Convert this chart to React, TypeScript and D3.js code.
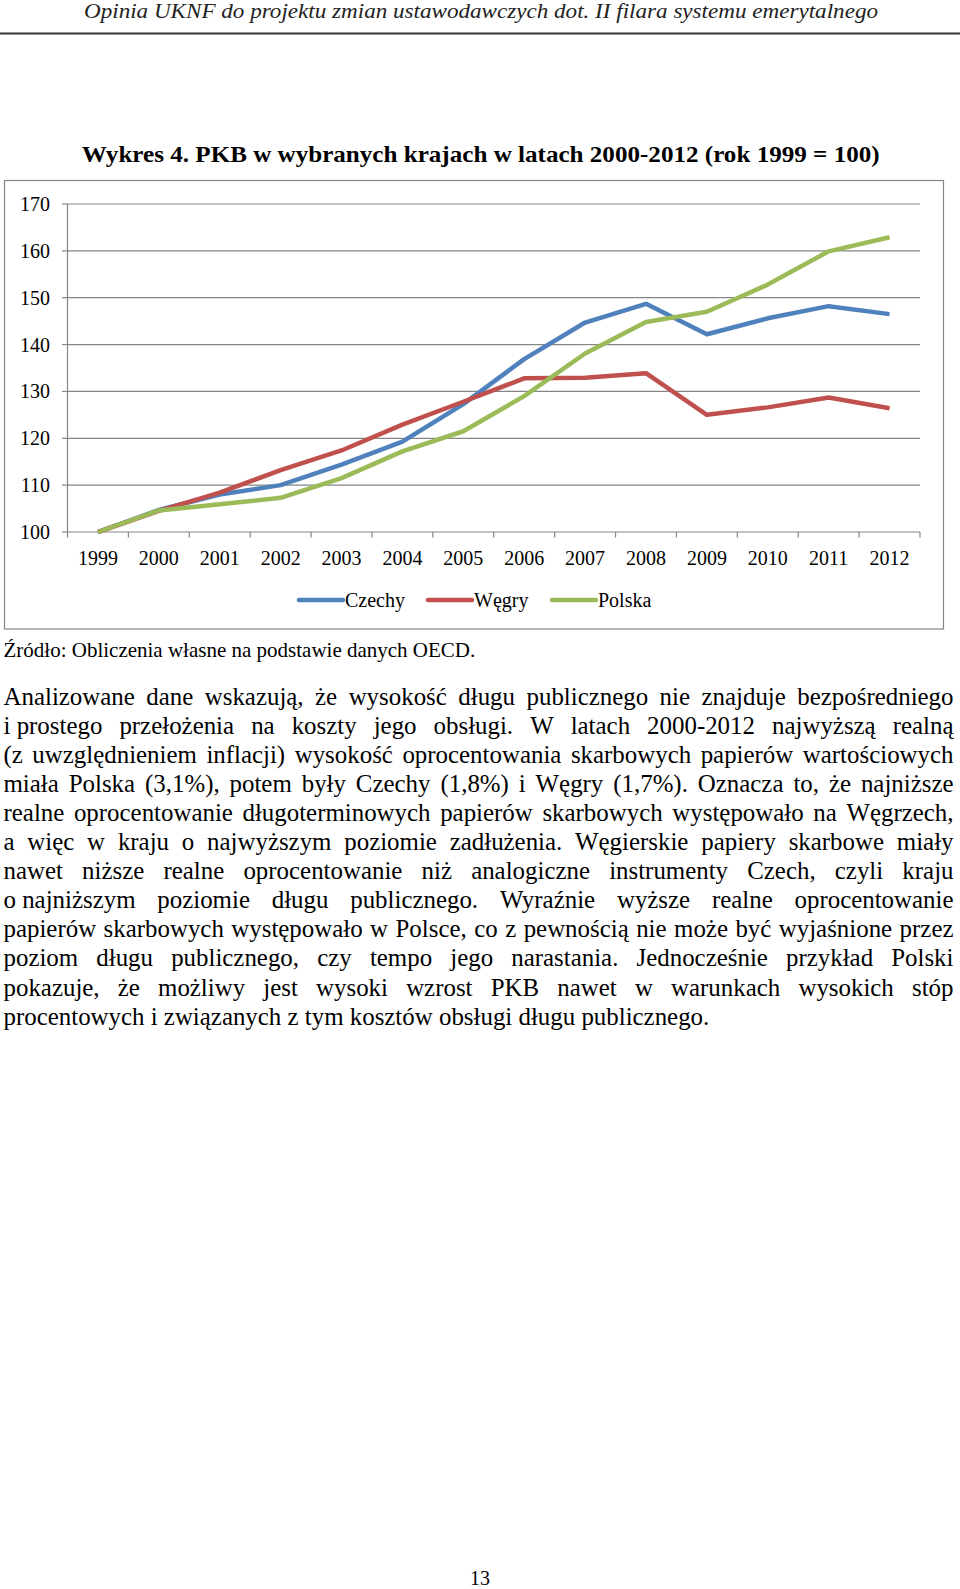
import React, { useMemo } from "react";
import * as d3 from "d3";

const years = ["1999", "2000", "2001", "2002", "2003", "2004", "2005", "2006", "2007", "2008", "2009", "2010", "2011", "2012"];
const czechy = [100, 104.7, 108.0, 110.0, 114.4, 119.3, 127.3, 136.9, 144.7, 148.7, 142.2, 145.6, 148.2, 146.5];
const wegry = [100, 104.5, 108.4, 113.2, 117.4, 122.9, 127.8, 132.8, 132.9, 133.9, 125.0, 126.6, 128.7, 126.4];
const polska = [100, 104.6, 105.9, 107.3, 111.5, 117.2, 121.5, 129.0, 138.1, 144.8, 147.0, 152.8, 159.9, 162.9];
const yTicks = [100, 110, 120, 130, 140, 150, 160, 170];
const seriesNames = ["Czechy", "Węgry", "Polska"];
const seriesColors = ["#4F81BD", "#C0504D", "#9BBB59"];

const headerText = "Opinia UKNF do projektu zmian ustawodawczych dot. II filara systemu emerytalnego";
const titleText = "Wykres 4. PKB w wybranych krajach w latach 2000-2012 (rok 1999 = 100)";
const sourceText = "Źródło: Obliczenia własne na podstawie danych OECD.";
const NB = "\u00a0";
const bodyLines = [
  "Analizowane dane wskazują, że wysokość długu publicznego nie znajduje bezpośredniego",
  `i${NB}prostego przełożenia na koszty jego obsługi. W latach 2000-2012 najwyższą realną`,
  "(z uwzględnieniem inflacji) wysokość oprocentowania skarbowych papierów wartościowych",
  "miała Polska (3,1%), potem były Czechy (1,8%) i Węgry (1,7%). Oznacza to, że najniższe",
  "realne oprocentowanie długoterminowych papierów skarbowych występowało na Węgrzech,",
  "a więc w kraju o najwyższym poziomie zadłużenia. Węgierskie papiery skarbowe miały",
  "nawet niższe realne oprocentowanie niż analogiczne instrumenty Czech, czyli kraju",
  `o${NB}najniższym poziomie długu publicznego. Wyraźnie wyższe realne oprocentowanie`,
  "papierów skarbowych występowało w Polsce, co z pewnością nie może być wyjaśnione przez",
  "poziom długu publicznego, czy tempo jego narastania. Jednocześnie przykład Polski",
  "pokazuje, że możliwy jest wysoki wzrost PKB nawet w warunkach wysokich stóp",
  "procentowych i związanych z tym kosztów obsługi długu publicznego.",
];
const pageNumber = "13";

const FONT = "'Liberation Serif', 'Times New Roman', serif";

export default function App() {
  const W = 960;
  const H = 1589;
  const plot = { left: 67.5, right: 920, top: 204, bottom: 532 };

  const x = d3.scaleBand<string>().domain(years).range([plot.left, plot.right]).padding(0);
  const y = d3.scaleLinear().domain([100, 170]).range([plot.bottom, plot.top]);
  const cx = (yr: string) => (x(yr) as number) + x.bandwidth() / 2;

  const allSeries = [czechy, wegry, polska];
  const line = d3
    .line<number>()
    .x((_, i) => cx(years[i]))
    .y((v) => y(v));

  const bodySize = 24.9;
  const bodyLeft = 3.5;
  const bodyRight = 953.5;
  const bodyTop = 705;
  const bodyStep = 29.05;

  const laidOut = useMemo(() => {
    const canvas = document.createElement("canvas");
    const ctx = canvas.getContext("2d")!;
    ctx.font = `${bodySize}px "Liberation Serif"`;
    return bodyLines.map((ln, li) => {
      const words = ln.split(" ");
      const widths = words.map((w) => ctx.measureText(w).width);
      const total = widths.reduce((a, b) => a + b, 0);
      const last = li === bodyLines.length - 1;
      const space = ctx.measureText(" ").width;
      let gap = last ? space : (bodyRight - bodyLeft - total) / (words.length - 1);
      let scale = 1;
      if (!last && gap < space * 0.6) {
        gap = space * 0.6;
        scale = (bodyRight - bodyLeft - gap * (words.length - 1)) / total;
      }
      let xx = bodyLeft;
      return words.map((w, i) => {
        const pos = xx;
        xx += widths[i] * scale + gap;
        return { w, x: pos, len: widths[i] * scale, scaled: scale !== 1 };
      });
    });
  }, []);

  const legendY = 600;
  const legendItems = [
    { lx: 299, tx: 345 },
    { lx: 428, tx: 474 },
    { lx: 552, tx: 598 },
  ];

  const gridColor = "#868686";

  return (
    <div style={{ position: "absolute", left: 0, top: 0 }}>
      <svg width={W} height={H} style={{ display: "block", background: "#fff", fontFamily: FONT }}>
        <rect x={0} y={0} width={W} height={H} fill="#fff" />
        {/* header */}
        <text x={84} y={18} fontSize={20} fontStyle="italic" fill="#222" textLength={794} lengthAdjust="spacingAndGlyphs">
          {headerText}
        </text>
        <rect x={0} y={32.5} width={W} height={2} fill="#333" />

        {/* title */}
        <text x={81.7} y={161.7} fontSize={22.8} fontWeight="bold" fill="#000" textLength={798} lengthAdjust="spacingAndGlyphs">
          {titleText}
        </text>

        {/* chart frame */}
        <rect x={4.5} y={180.5} width={939} height={448.5} fill="#fff" stroke={gridColor} strokeWidth={1.2} />

        {/* gridlines and y axis */}
        {yTicks.map((t) => (
          <g key={t}>
            <line x1={plot.left} x2={plot.right} y1={y(t)} y2={y(t)} stroke={gridColor} strokeWidth={1.2} />
            <line x1={plot.left - 5.5} x2={plot.left} y1={y(t)} y2={y(t)} stroke={gridColor} strokeWidth={1.2} />
            <text x={50} y={y(t)} dy="0.35em" textAnchor="end" fontSize={20} fill="#000">
              {t}
            </text>
          </g>
        ))}
        <line x1={plot.left} x2={plot.left} y1={plot.top} y2={plot.bottom} stroke={gridColor} strokeWidth={1.2} />
        {years.map((yr) => (
          <line
            key={"t" + yr}
            x1={x(yr) as number}
            x2={x(yr) as number}
            y1={plot.bottom}
            y2={plot.bottom + 5.5}
            stroke={gridColor}
            strokeWidth={1.2}
          />
        ))}
        <line x1={plot.right} x2={plot.right} y1={plot.bottom} y2={plot.bottom + 5.5} stroke={gridColor} strokeWidth={1.2} />
        {years.map((yr) => (
          <text key={"l" + yr} x={cx(yr)} y={565} textAnchor="middle" fontSize={20} fill="#000">
            {yr}
          </text>
        ))}

        {/* series */}
        {allSeries.map((s, i) => (
          <path
            key={seriesNames[i]}
            d={line(s) as string}
            fill="none"
            stroke={seriesColors[i]}
            strokeWidth={4.5}
            strokeLinejoin="round"
            strokeLinecap="butt"
          />
        ))}

        {/* legend */}
        {legendItems.map((it, i) => (
          <g key={"lg" + i}>
            <line x1={it.lx} x2={it.lx + 44} y1={legendY} y2={legendY} stroke={seriesColors[i]} strokeWidth={4.5} strokeLinecap="round" />
            <text x={it.tx} y={legendY + 6.5} fontSize={20} fill="#000">
              {seriesNames[i]}
            </text>
          </g>
        ))}

        {/* source */}
        <text x={3.5} y={657} fontSize={21} fill="#000">
          {sourceText}
        </text>

        {/* body */}
        {laidOut.map((words, li) =>
          words.map((wd, wi) => (
            <text
              key={li + "-" + wi}
              x={wd.x}
              y={bodyTop + li * bodyStep}
              fontSize={bodySize}
              fill="#000"
              {...(wd.scaled ? { textLength: wd.len, lengthAdjust: "spacingAndGlyphs" } : {})}
            >
              {wd.w}
            </text>
          ))
        )}

        {/* page number */}
        <text x={480} y={1585} textAnchor="middle" fontSize={20} fill="#000">
          {pageNumber}
        </text>
      </svg>
    </div>
  );
}
